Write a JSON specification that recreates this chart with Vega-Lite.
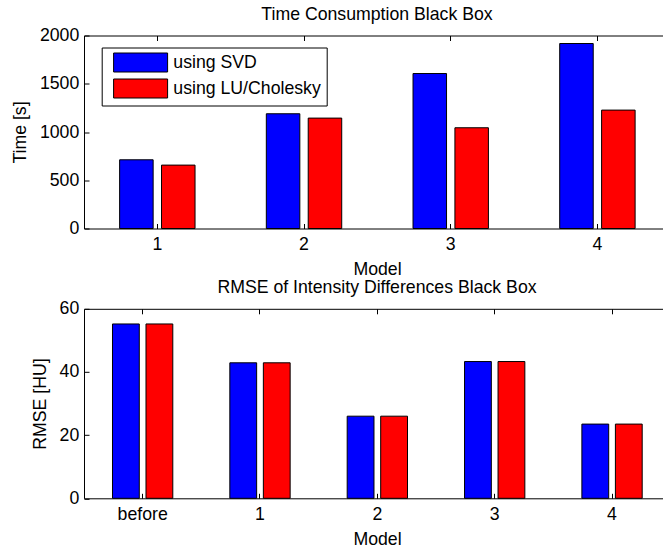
{
  "$schema": "https://vega.github.io/schema/vega-lite/v6.json",
  "background": "white",
  "padding": {"left": 11, "top": 5.5, "right": 0, "bottom": 0},
  "config": {
    "font": "Liberation Sans",
    "view": {"stroke": null},
    "axis": {
      "domainColor": "#000000",
      "domainWidth": 1,
      "tickColor": "#000000",
      "tickWidth": 1,
      "tickSize": -5,
      "grid": false,
      "labelFont": "Liberation Sans",
      "labelFontSize": 17.7,
      "labelColor": "#000000",
      "titleFont": "Liberation Sans",
      "titleFontSize": 17.7,
      "titleFontWeight": "normal",
      "titleColor": "#000000"
    },
    "title": {
      "font": "Liberation Sans",
      "fontSize": 17.7,
      "fontWeight": "normal",
      "color": "#000000",
      "frame": "group",
      "baseline": "alphabetic",
      "offset": 3.3,
      "dx": 3.5
    }
  },
  "datasets": {
    "timing": [
      {"model": "1", "method": "using SVD", "time": 712},
      {"model": "1", "method": "using LU/Cholesky", "time": 657},
      {"model": "2", "method": "using SVD", "time": 1189},
      {"model": "2", "method": "using LU/Cholesky", "time": 1144},
      {"model": "3", "method": "using SVD", "time": 1606},
      {"model": "3", "method": "using LU/Cholesky", "time": 1044},
      {"model": "4", "method": "using SVD", "time": 1917},
      {"model": "4", "method": "using LU/Cholesky", "time": 1227}
    ],
    "rmse": [
      {"model": "before", "method": "using SVD", "rmse": 55.2},
      {"model": "before", "method": "using LU/Cholesky", "rmse": 55.2},
      {"model": "1", "method": "using SVD", "rmse": 42.9},
      {"model": "1", "method": "using LU/Cholesky", "rmse": 42.9},
      {"model": "2", "method": "using SVD", "rmse": 26.0},
      {"model": "2", "method": "using LU/Cholesky", "rmse": 26.0},
      {"model": "3", "method": "using SVD", "rmse": 43.3},
      {"model": "3", "method": "using LU/Cholesky", "rmse": 43.3},
      {"model": "4", "method": "using SVD", "rmse": 23.5},
      {"model": "4", "method": "using LU/Cholesky", "rmse": 23.5}
    ]
  },
  "spacing": 80.3,
  "bounds": "flush",
  "resolve": {
    "scale": {"x": "independent", "y": "independent", "xOffset": "independent", "color": "independent"},
    "legend": {"color": "independent"}
  },
  "vconcat": [
    {
      "width": 579,
      "height": 193,
      "title": {"text": "Time Consumption Black Box"},
      "data": {"name": "timing"},
      "layer": [
        {
          "mark": {"type": "bar", "stroke": "#000000", "strokeWidth": 1},
          "encoding": {
            "x": {
              "field": "model", "type": "nominal", "sort": ["1", "2", "3", "4"],
              "scale": {"paddingInner": 0.486, "paddingOuter": 0.2165, "align": 0.561},
              "axis": {"title": "Model", "labelAngle": 0, "labelPadding": 12.3, "titlePadding": 6.7, "titleX": 293}
            },
            "xOffset": {
              "field": "method", "type": "nominal", "sort": ["using SVD", "using LU/Cholesky"],
              "scale": {"paddingInner": 0.2, "paddingOuter": 0}
            },
            "y": {
              "field": "time", "type": "quantitative",
              "scale": {"domain": [0, 2000], "nice": false},
              "axis": {"title": "Time [s]", "values": [0, 500, 1000, 1500, 2000], "format": "d", "labelPadding": 10.2, "titlePadding": 9.6}
            },
            "color": {
              "field": "method", "type": "nominal",
              "scale": {"domain": ["using SVD", "using LU/Cholesky"], "range": ["#0000ff", "#ff0000"]},
              "legend": {
                "title": null,
                "orient": "none",
                "legendX": 17.7,
                "legendY": 12,
                "strokeColor": "#000000",
                "fillColor": "#ffffff",
                "padding": 5,
                "rowPadding": 2,
                "symbolType": "M-0.326,-1H5.358V1H-0.326Z",
                "symbolSize": 361,
                "symbolStrokeColor": "#000000",
                "symbolStrokeWidth": 1,
                "symbolOpacity": 1,
                "labelOffset": 46.6,
                "labelFont": "Liberation Sans",
                "labelFontSize": 17.7,
                "labelColor": "#000000"
              }
            }
          }
        },
        {
          "mark": {"type": "rule", "opacity": 0},
          "encoding": {
            "x": {
              "field": "model", "type": "nominal", "sort": ["1", "2", "3", "4"],
              "axis": {"orient": "top", "labels": false, "title": null}
            }
          }
        }
      ],
      "resolve": {"axis": {"x": "independent"}}
    },
    {
      "width": 579,
      "height": 189.5,
      "title": {"text": "RMSE of Intensity Differences Black Box"},
      "data": {"name": "rmse"},
      "layer": [
        {
          "mark": {"type": "bar", "stroke": "#000000", "strokeWidth": 1},
          "encoding": {
            "x": {
              "field": "model", "type": "nominal", "sort": ["before", "1", "2", "3", "4"],
              "scale": {"paddingInner": 0.486, "paddingOuter": 0.21, "align": 0.578},
              "axis": {"title": "Model", "labelAngle": 0, "labelPadding": 12.3, "titlePadding": 6.7, "titleX": 293}
            },
            "xOffset": {
              "field": "method", "type": "nominal", "sort": ["using SVD", "using LU/Cholesky"],
              "scale": {"paddingInner": 0.2, "paddingOuter": 0}
            },
            "y": {
              "field": "rmse", "type": "quantitative",
              "scale": {"domain": [0, 60], "nice": false},
              "axis": {"title": "RMSE [HU]", "values": [0, 20, 40, 60], "format": "d", "labelPadding": 10.2, "titlePadding": 9.6}
            },
            "color": {
              "field": "method", "type": "nominal",
              "scale": {"domain": ["using SVD", "using LU/Cholesky"], "range": ["#0000ff", "#ff0000"]},
              "legend": null
            }
          }
        },
        {
          "mark": {"type": "rule", "opacity": 0},
          "encoding": {
            "x": {
              "field": "model", "type": "nominal", "sort": ["before", "1", "2", "3", "4"],
              "axis": {"orient": "top", "labels": false, "title": null}
            }
          }
        }
      ],
      "resolve": {"axis": {"x": "independent"}}
    }
  ]
}
